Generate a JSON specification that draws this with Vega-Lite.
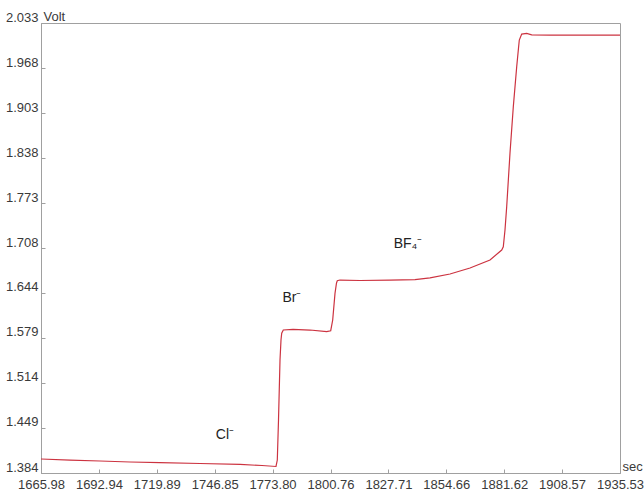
{
  "$schema": "https://vega.github.io/schema/vega-lite/v6.json",
  "width": 579,
  "height": 450,
  "autosize": {"type": "none"},
  "padding": {"left": 41, "top": 23, "right": 24, "bottom": 19},
  "background": "white",
  "config": {
    "view": {"stroke": "#a0a0a0", "strokeWidth": 1},
    "axis": {
      "labelFont": "Liberation Sans",
      "titleFont": "Liberation Sans",
      "labelFontSize": 13,
      "titleFontSize": 13,
      "titleFontWeight": "normal",
      "labelColor": "#3a3a3a",
      "titleColor": "#3a3a3a",
      "domainColor": "#a0a0a0",
      "tickColor": "#a0a0a0",
      "grid": false
    }
  },
  "datasets": {
    "curve": [
      {"t": 1665.98, "v": 1.4042},
      {"t": 1679.48, "v": 1.4027},
      {"t": 1693.45, "v": 1.4013},
      {"t": 1707.41, "v": 1.3999},
      {"t": 1721.38, "v": 1.3991},
      {"t": 1740.00, "v": 1.3977},
      {"t": 1758.62, "v": 1.3963},
      {"t": 1768.86, "v": 1.3948},
      {"t": 1775.38, "v": 1.3934},
      {"t": 1775.99, "v": 1.4027},
      {"t": 1776.55, "v": 1.4604},
      {"t": 1777.25, "v": 1.5470},
      {"t": 1777.71, "v": 1.5758},
      {"t": 1778.04, "v": 1.5855},
      {"t": 1778.78, "v": 1.5902},
      {"t": 1783.30, "v": 1.5912},
      {"t": 1791.21, "v": 1.5902},
      {"t": 1798.98, "v": 1.5878},
      {"t": 1800.85, "v": 1.5892},
      {"t": 1801.78, "v": 1.6046},
      {"t": 1802.85, "v": 1.6431},
      {"t": 1803.55, "v": 1.6580},
      {"t": 1803.92, "v": 1.6613},
      {"t": 1805.18, "v": 1.6623},
      {"t": 1814.49, "v": 1.6616},
      {"t": 1828.45, "v": 1.6623},
      {"t": 1840.09, "v": 1.6630},
      {"t": 1847.08, "v": 1.6655},
      {"t": 1856.39, "v": 1.6710},
      {"t": 1865.70, "v": 1.6796},
      {"t": 1875.01, "v": 1.6912},
      {"t": 1880.46, "v": 1.7056},
      {"t": 1881.20, "v": 1.7103},
      {"t": 1881.99, "v": 1.7344},
      {"t": 1882.78, "v": 1.7680},
      {"t": 1884.32, "v": 1.8454},
      {"t": 1885.86, "v": 1.9122},
      {"t": 1887.44, "v": 1.9699},
      {"t": 1888.28, "v": 1.9969},
      {"t": 1888.65, "v": 2.0084},
      {"t": 1889.77, "v": 2.0170},
      {"t": 1892.10, "v": 2.0181},
      {"t": 1894.42, "v": 2.0160},
      {"t": 1902.94, "v": 2.0156},
      {"t": 1916.91, "v": 2.0156},
      {"t": 1935.53, "v": 2.0156}
    ],
    "labels": [
      {"t": 1751.6, "v": 1.439, "label": "Cl⁻"},
      {"t": 1782.8, "v": 1.636, "label": "Br⁻"},
      {"t": 1836.8, "v": 1.714, "label": "BF₄⁻"}
    ]
  },
  "layer": [
    {
      "data": {"name": "curve"},
      "mark": {"type": "line", "color": "#cc3340", "strokeWidth": 1.2, "clip": true},
      "encoding": {
        "x": {
          "field": "t", "type": "quantitative",
          "scale": {"domain": [1665.98, 1935.53], "nice": false, "zero": false},
          "axis": {
            "values": [1665.98, 1692.94, 1719.89, 1746.85, 1773.80, 1800.76, 1827.71, 1854.66, 1881.62, 1908.57, 1935.53],
            "format": ".2f",
            "tickSize": -4,
            "labelPadding": 9,
            "labelFlush": false,
            "labelOverlap": false,
            "title": "sec",
            "titleAnchor": "start",
            "titleAlign": "left",
            "titleBaseline": "alphabetic",
            "titleX": 581,
            "titleY": -3
          }
        },
        "y": {
          "field": "v", "type": "quantitative",
          "scale": {"domain": [1.384, 2.033], "nice": false, "zero": false},
          "axis": {
            "values": [1.384, 1.449, 1.514, 1.579, 1.644, 1.708, 1.773, 1.838, 1.903, 1.968, 2.033],
            "format": ".3f",
            "tickSize": -4,
            "labelPadding": 7,
            "labelBaseline": "alphabetic",
            "labelOffset": -2,
            "labelFlush": false,
            "labelOverlap": false,
            "title": "Volt",
            "titleAngle": 0,
            "titleAnchor": "start",
            "titleAlign": "left",
            "titleBaseline": "alphabetic",
            "titleX": 2,
            "titleY": -3
          }
        }
      }
    },
    {
      "data": {"name": "labels"},
      "mark": {"type": "text", "font": "Liberation Sans", "fontSize": 14, "color": "#222222", "align": "center", "baseline": "middle"},
      "encoding": {
        "x": {"field": "t", "type": "quantitative"},
        "y": {"field": "v", "type": "quantitative"},
        "text": {"field": "label"}
      }
    }
  ]
}
